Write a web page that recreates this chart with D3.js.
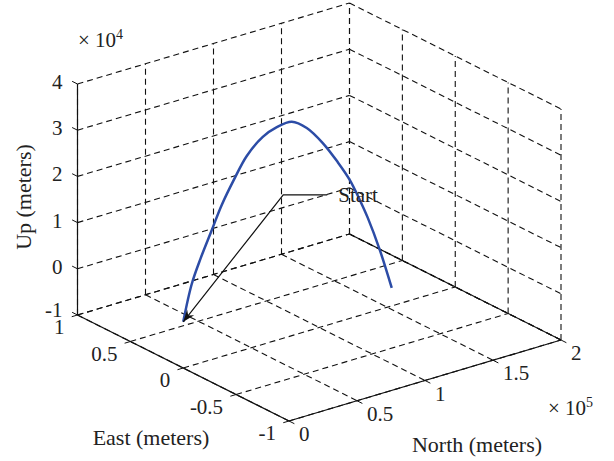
<!DOCTYPE html>
<html>
<head>
<meta charset="utf-8">
<script src="https://cdn.jsdelivr.net/npm/d3@7"></script>
<style>
  html, body { margin: 0; padding: 0; background: #fff; }
  svg { display: block; }
  text { font-family: "Liberation Serif", "Times New Roman", serif; fill: #222; }
</style>
</head>
<body>
<div id="chart"></div>
<script>
// ---- data (meters); trajectory lies in the East = 0 plane -----------------
const eastTicks = [1, 0.5, 0, -0.5, -1];
const northTicks = [0, 0.5e5, 1e5, 1.5e5, 2e5];
const upTicks = [-1e4, 0, 1e4, 2e4, 3e4, 4e4];
const eastTickLabels = ["1", "0.5", "0", "-0.5", "-1"];
const northTickLabels = ["0", "0.5", "1", "1.5", "2"];
const upTickLabels = ["-1", "0", "1", "2", "3", "4"];

const trackNorth = [0, 6250, 12900, 20200, 28300, 37100, 46700, 58500, 68800, 79800,
  90800, 102600, 113600, 122400, 129800, 135700, 144500, 153300];
const trackUp = [0, 7630, 12700, 17500, 22800, 27400, 31800, 34900, 36100, 36300,
  34000, 29700, 24600, 20000, 15000, 10600, 2900, -6100];
const trackEast = trackNorth.map(() => 0);

(function () {
  const W = 614, H = 461;
  const FONT = 21, TITLE = 22;

  // ---- oblique projection: each axis scale gives a fraction of its edge --
  const O = { x: 77.5, y: 315 };          // corner East=1, North=0, Up=-1
  const EV = { x: 211.5, y: 106 };        // East 1 -> -1
  const NV = { x: 272, y: -81 };          // North 0 -> 2e5
  const UV = { x: 0, y: -231 };           // Up -1e4 -> 4e4
  const eS = d3.scaleLinear().domain([1, -1]).range([0, 1]);
  const nS = d3.scaleLinear().domain([0, 2e5]).range([0, 1]);
  const uS = d3.scaleLinear().domain([-1e4, 4e4]).range([0, 1]);
  const P = (e, n, u) => [
    O.x + eS(e) * EV.x + nS(n) * NV.x + uS(u) * UV.x,
    O.y + eS(e) * EV.y + nS(n) * NV.y + uS(u) * UV.y
  ];
  const E0 = 1, E1 = -1, N0 = 0, N1 = 2e5, U0 = -1e4, U1 = 4e4;

  const svg = d3.select("#chart").append("svg").attr("width", W).attr("height", H);

  // ---- grid on the three back planes --------------------------------------
  const grid = [];
  upTicks.forEach((u) => { grid.push([P(E0, N0, u), P(E0, N1, u)]); grid.push([P(E0, N1, u), P(E1, N1, u)]); });
  northTicks.forEach((n) => { grid.push([P(E0, n, U0), P(E0, n, U1)]); grid.push([P(E0, n, U0), P(E1, n, U0)]); });
  eastTicks.forEach((e) => { grid.push([P(e, N1, U0), P(e, N1, U1)]); grid.push([P(e, N0, U0), P(e, N1, U0)]); });

  svg.append("g")
    .selectAll("line")
    .data(grid)
    .join("line")
    .attr("x1", (d) => d[0][0]).attr("y1", (d) => d[0][1])
    .attr("x2", (d) => d[1][0]).attr("y2", (d) => d[1][1])
    .attr("stroke", "#111")
    .attr("stroke-width", 1.1)
    .attr("stroke-dasharray", "6,4");

  // ---- axis lines ---------------------------------------------------------
  const axes = [
    [P(E0, N0, U0), P(E0, N0, U1)],
    [P(E0, N0, U0), P(E1, N0, U0)],
    [P(E1, N0, U0), P(E1, N1, U0)],
    [P(E0, N1, U0), P(E1, N1, U0)]
  ];
  svg.append("g")
    .selectAll("line")
    .data(axes)
    .join("line")
    .attr("x1", (d) => d[0][0]).attr("y1", (d) => d[0][1])
    .attr("x2", (d) => d[1][0]).attr("y2", (d) => d[1][1])
    .attr("stroke", "#111")
    .attr("stroke-width", 1.2);

  // ticks: short stubs pointing out of the box
  const unit = (v) => { const l = Math.hypot(v.x, v.y); return { x: v.x / l, y: v.y / l }; };
  const outE = unit({ x: -EV.x, y: -EV.y }), outN = unit({ x: -NV.x, y: -NV.y }), outEneg = unit(EV);
  const TL = 6;
  const ticks = [];
  upTicks.forEach((u) => { const p = P(E0, N0, u); ticks.push([p, [p[0] + outE.x * TL, p[1] + outE.y * TL]]); });
  eastTicks.forEach((e) => { const p = P(e, N0, U0); ticks.push([p, [p[0] + outN.x * TL, p[1] + outN.y * TL]]); });
  northTicks.forEach((n) => { const p = P(E1, n, U0); ticks.push([p, [p[0] + outEneg.x * TL, p[1] + outEneg.y * TL]]); });
  svg.append("g")
    .selectAll("line")
    .data(ticks)
    .join("line")
    .attr("x1", (d) => d[0][0]).attr("y1", (d) => d[0][1])
    .attr("x2", (d) => d[1][0]).attr("y2", (d) => d[1][1])
    .attr("stroke", "#111")
    .attr("stroke-width", 1);

  // ---- tick labels --------------------------------------------------------
  const lab = svg.append("g").style("font-size", FONT + "px");
  lab.selectAll("text.u")
    .data(upTicks)
    .join("text")
    .attr("class", "u")
    .attr("x", (u) => P(E0, N0, u)[0] - 15)
    .attr("y", (u, i) => P(E0, N0, u)[1] - (i === 0 ? 5 : 2))
    .attr("text-anchor", "end")
    .attr("dominant-baseline", "central")
    .text((u, i) => upTickLabels[i]);
  lab.selectAll("text.e")
    .data(eastTicks)
    .join("text")
    .attr("class", "e")
    .attr("x", (e) => P(e, N0, U0)[0] - 13)
    .attr("y", (e) => P(e, N0, U0)[1] + 12)
    .attr("text-anchor", "end")
    .attr("dominant-baseline", "central")
    .text((e, i) => eastTickLabels[i]);
  lab.selectAll("text.n")
    .data(northTicks)
    .join("text")
    .attr("class", "n")
    .attr("x", (n) => P(E1, n, U0)[0] + 10)
    .attr("y", (n) => P(E1, n, U0)[1] + 13)
    .attr("text-anchor", "start")
    .attr("dominant-baseline", "central")
    .text((n, i) => northTickLabels[i]);

  // exponent markers
  const expo = (x, y, p) => {
    const t = svg.append("text").attr("x", x).attr("y", y).style("font-size", FONT + "px");
    t.append("tspan").text("\u00d7 10");
    t.append("tspan").attr("dy", -8).style("font-size", "14px").text(p);
  };
  expo(78, 47, "4");
  expo(548, 415, "5");

  // axis titles
  svg.append("text").attr("x", 151).attr("y", 445).attr("text-anchor", "middle")
    .style("font-size", TITLE + "px").text("East (meters)");
  svg.append("text").attr("x", 477).attr("y", 452).attr("text-anchor", "middle")
    .style("font-size", TITLE + "px").text("North (meters)");
  svg.append("text").attr("transform", "translate(31,197) rotate(-90)").attr("text-anchor", "middle")
    .style("font-size", TITLE + "px").text("Up (meters)");

  // ---- trajectory ---------------------------------------------------------
  const pts = trackNorth.map((n, i) => P(trackEast[i], n, trackUp[i]));
  svg.append("path")
    .attr("d", d3.line().curve(d3.curveCatmullRom.alpha(0.5))(pts))
    .attr("fill", "none")
    .attr("stroke", "#2c4ca6")
    .attr("stroke-width", 2.5);

  // ---- "Start" annotation -------------------------------------------------
  const tip = pts[0];
  const elbow = [tip[0] + 100, tip[1] - 127];
  const tail = [elbow[0] + 44, elbow[1]];
  svg.append("path")
    .attr("d", d3.line()([tail, elbow, tip]))
    .attr("fill", "none").attr("stroke", "#111").attr("stroke-width", 1.2);
  const ang = Math.atan2(elbow[1] - tip[1], elbow[0] - tip[0]);
  const head = [[0, 0], [12, -4.5], [8, 0], [12, 4.5]].map(([a, b]) => [
    tip[0] + a * Math.cos(ang) - b * Math.sin(ang),
    tip[1] + a * Math.sin(ang) + b * Math.cos(ang)
  ]);
  svg.append("path").attr("d", d3.line()(head) + "Z").attr("fill", "#111").attr("stroke", "none");
  svg.append("text").attr("x", tail[0] + 11).attr("y", elbow[1] + 7)
    .style("font-size", FONT + "px").text("Start");
})();
</script>
</body>
</html>
